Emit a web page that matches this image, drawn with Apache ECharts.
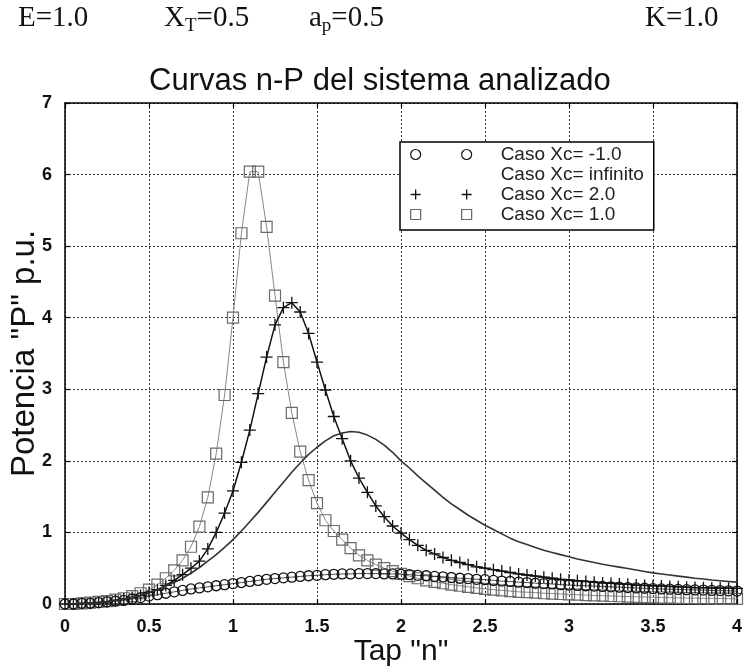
<!DOCTYPE html>
<html>
<head>
<meta charset="utf-8">
<script src="https://cdn.jsdelivr.net/npm/echarts@6/dist/echarts.min.js"></script>
<style>
  html, body { margin: 0; padding: 0; background: #fff; }
  #chart { width: 745px; height: 670px; }
</style>
</head>
<body>
<div id="chart"></div>
<script>
// Tap positions "n"
const tap = [0, 0.05, 0.1, 0.15, 0.2, 0.25, 0.3, 0.35, 0.4, 0.45,
  0.5, 0.55, 0.6, 0.65, 0.7, 0.75, 0.8, 0.85, 0.9, 0.95,
  1, 1.05, 1.1, 1.15, 1.2, 1.25, 1.3, 1.35, 1.4, 1.45,
  1.5, 1.55, 1.6, 1.65, 1.7, 1.75, 1.8, 1.85, 1.9, 1.95,
  2, 2.05, 2.1, 2.15, 2.2, 2.25, 2.3, 2.35, 2.4, 2.45,
  2.5, 2.55, 2.6, 2.65, 2.7, 2.75, 2.8, 2.85, 2.9, 2.95,
  3, 3.05, 3.1, 3.15, 3.2, 3.25, 3.3, 3.35, 3.4, 3.45,
  3.5, 3.55, 3.6, 3.65, 3.7, 3.75, 3.8, 3.85, 3.9, 3.95, 4];

// Power P (p.u.) for each capacitor case
const pXcMinus1 = [0.00, 0.00, 0.01, 0.01, 0.02, 0.03, 0.04, 0.05, 0.07, 0.09,
  0.11, 0.13, 0.15, 0.17, 0.19, 0.21, 0.225, 0.24, 0.255, 0.27,
  0.285, 0.30, 0.315, 0.33, 0.345, 0.355, 0.365, 0.375, 0.385, 0.395,
  0.40, 0.41, 0.415, 0.42, 0.42, 0.425, 0.425, 0.425, 0.42, 0.42,
  0.415, 0.41, 0.40, 0.395, 0.385, 0.38, 0.37, 0.36, 0.355, 0.345,
  0.34, 0.33, 0.32, 0.315, 0.305, 0.30, 0.29, 0.285, 0.28, 0.27,
  0.265, 0.26, 0.255, 0.25, 0.245, 0.24, 0.235, 0.23, 0.225, 0.22,
  0.215, 0.21, 0.207, 0.204, 0.20, 0.197, 0.194, 0.19, 0.187, 0.184, 0.18];

const pXcInf = [0.00, 0.00, 0.01, 0.01, 0.02, 0.03, 0.05, 0.07, 0.09, 0.12,
  0.16, 0.20, 0.25, 0.30, 0.36, 0.43, 0.51, 0.60, 0.69, 0.79,
  0.90, 1.02, 1.15, 1.28, 1.42, 1.56, 1.70, 1.84, 1.97, 2.09,
  2.19, 2.28, 2.35, 2.39, 2.41, 2.40, 2.36, 2.30, 2.22, 2.12,
  2.00, 1.90, 1.79, 1.69, 1.59, 1.49, 1.40, 1.32, 1.24, 1.17,
  1.10, 1.04, 0.98, 0.92, 0.87, 0.83, 0.79, 0.75, 0.72, 0.69,
  0.66, 0.63, 0.605, 0.58, 0.555, 0.535, 0.515, 0.495, 0.475, 0.455,
  0.435, 0.42, 0.405, 0.39, 0.375, 0.36, 0.35, 0.335, 0.325, 0.315, 0.305];

const pXc2 = [0.00, 0.00, 0.01, 0.01, 0.02, 0.03, 0.05, 0.07, 0.09, 0.12,
  0.16, 0.20, 0.26, 0.33, 0.41, 0.50, 0.60, 0.77, 1.00, 1.27,
  1.58, 1.98, 2.43, 2.94, 3.45, 3.90, 4.14, 4.21, 4.08, 3.78,
  3.38, 2.99, 2.62, 2.31, 2.00, 1.76, 1.56, 1.37, 1.22, 1.09,
  0.99, 0.90, 0.82, 0.75, 0.70, 0.65, 0.61, 0.58, 0.55, 0.52,
  0.50, 0.48, 0.46, 0.44, 0.42, 0.405, 0.39, 0.375, 0.36, 0.345,
  0.335, 0.325, 0.315, 0.305, 0.295, 0.29, 0.28, 0.275, 0.265, 0.26,
  0.255, 0.25, 0.245, 0.24, 0.235, 0.23, 0.228, 0.225, 0.222, 0.22, 0.218];

const pXc1 = [0.00, 0.00, 0.01, 0.02, 0.03, 0.04, 0.06, 0.08, 0.11, 0.15,
  0.20, 0.27, 0.36, 0.47, 0.61, 0.80, 1.08, 1.49, 2.10, 2.92,
  4.00, 5.18, 6.04, 6.04, 5.27, 4.31, 3.38, 2.67, 2.13, 1.73,
  1.41, 1.17, 1.02, 0.90, 0.78, 0.68, 0.61, 0.55, 0.50, 0.46,
  0.42, 0.39, 0.36, 0.33, 0.31, 0.29, 0.27, 0.255, 0.24, 0.225,
  0.21, 0.20, 0.19, 0.18, 0.17, 0.165, 0.16, 0.15, 0.145, 0.14,
  0.135, 0.13, 0.125, 0.12, 0.116, 0.112, 0.108, 0.104, 0.10, 0.097,
  0.094, 0.091, 0.088, 0.086, 0.084, 0.082, 0.08, 0.078, 0.076, 0.074, 0.072];

const seriesNames = ['Caso Xc= -1.0', 'Caso Xc= infinito', 'Caso Xc= 2.0', 'Caso Xc= 1.0'];

const pairs = (ys) => tap.map((x, i) => [x, ys[i]]);

const PLUS = 'path://M0 5L10 5M5 0L5 10';
const hollow = (c, w) => ({ color: 'rgba(0,0,0,0)', borderColor: c, borderWidth: w });

const chart = echarts.init(document.getElementById('chart'), null, { renderer: 'canvas' });

const sansFont = '"Liberation Sans", Arial, sans-serif';
const serifFont = '"Liberation Serif", "Times New Roman", serif';

const axisCommon = {
  type: 'value',
  axisLine: { show: true, onZero: false, lineStyle: { color: '#000', width: 1.5 } },
  axisTick: { show: true, inside: true, length: 5, lineStyle: { color: '#000', width: 1.2 } },
  splitLine: { show: false },
  axisLabel: { show: false }
};

const headRich = {
  b: { font: '29px ' + serifFont },
  s: { font: '19px ' + serifFont, padding: [15, 0, 0, 0] }
};

chart.setOption({
  animation: false,
  backgroundColor: '#fff',
  title: {
    text: 'Curvas n-P del sistema analizado',
    left: 144, top: 61,
    textStyle: { fontFamily: sansFont, fontSize: 31, fontWeight: 'normal', color: '#111' }
  },
  graphic: [
    { type: 'text', left: 18, top: 4, style: { text: 'E=1.0', font: '29px ' + serifFont, fill: '#111' } },
    { type: 'text', left: 164, top: 4, style: { text: '{b|X}{s|T}{b|=0.5}', fill: '#111', rich: headRich } },
    { type: 'text', left: 309, top: 4, style: { text: '{b|a}{s|p}{b|=0.5}', fill: '#111', rich: headRich } },
    { type: 'text', left: 645, top: 4, style: { text: 'K=1.0', font: '29px ' + serifFont, fill: '#111' } }
  ],
  legend: {
    orient: 'vertical',
    left: 400, top: 142,
    backgroundColor: '#fff',
    borderColor: '#000', borderWidth: 1.5,
    padding: [3, 10, 6, 10],
    itemGap: 1,
    itemWidth: 61, itemHeight: 10,
    symbolKeepAspect: false,
    formatter: (name) => '{t|' + name + '}',
    textStyle: {
      color: '#222',
      rich: { t: { fontFamily: sansFont, fontSize: 19, lineHeight: 20, padding: [0, 0, 0, 24], color: '#222' } }
    },
    data: [
      { name: seriesNames[0], icon: 'path://M0 5A5 5 0 1 1 10 5A5 5 0 1 1 0 5ZM51 5A5 5 0 1 1 61 5A5 5 0 1 1 51 5Z',
        itemStyle: hollow('#111', 1.2) },
      { name: seriesNames[1], icon: 'rect', itemStyle: { color: 'rgba(0,0,0,0)', borderWidth: 0 } },
      { name: seriesNames[2], icon: 'path://M0 5L10 5M5 0L5 10M51 5L61 5M56 0L56 10',
        itemStyle: hollow('#111', 1.3) },
      { name: seriesNames[3], icon: 'path://M0 0L10 0L10 10L0 10ZM51 0L61 0L61 10L51 10Z',
        itemStyle: hollow('#666', 1.2) }
    ]
  },
  grid: { left: 65, right: 8, top: 103, bottom: 66, containLabel: false, outerBoundsMode: 'none' },
  xAxis: [
    Object.assign({}, axisCommon, {
      min: 0, max: 4, interval: 0.5,
      position: 'bottom',
      axisLabel: { show: true, color: '#111', fontFamily: sansFont, fontSize: 18, fontWeight: 'bold', margin: 14 },
      splitLine: { show: true, lineStyle: { color: '#333', width: 1, type: [2, 2] } },
      name: 'Tap "n"', nameLocation: 'middle', nameGap: 33, nameMoveOverlap: false,
      nameTextStyle: { fontFamily: sansFont, fontSize: 30, color: '#111' }
    }),
    Object.assign({}, axisCommon, { min: 0, max: 4, interval: 0.5, position: 'top' })
  ],
  yAxis: [
    Object.assign({}, axisCommon, {
      min: 0, max: 7, interval: 1,
      position: 'left',
      axisLabel: { show: true, color: '#111', fontFamily: sansFont, fontSize: 18, fontWeight: 'bold', margin: 13 },
      splitLine: { show: true, lineStyle: { color: '#333', width: 1, type: [2, 2] } },
      name: 'Potencia "P" p.u.', nameLocation: 'middle', nameGap: 24, nameRotate: 90, nameMoveOverlap: false,
      nameTextStyle: { fontFamily: sansFont, fontSize: 33, color: '#111' }
    }),
    Object.assign({}, axisCommon, { min: 0, max: 7, interval: 1, position: 'right' })
  ],
  series: [
    {
      name: seriesNames[3], type: 'line', data: pairs(pXc1),
      symbol: 'rect', symbolSize: 11, showAllSymbol: true,
      lineStyle: { color: '#888', width: 1 },
      itemStyle: hollow('#6a6a6a', 1.2),
      z: 2
    },
    {
      name: seriesNames[2], type: 'line', data: pairs(pXc2),
      symbol: PLUS, symbolSize: 12, showAllSymbol: true,
      lineStyle: { color: '#111', width: 1.5 },
      itemStyle: hollow('#111', 1.3),
      z: 3
    },
    {
      name: seriesNames[0], type: 'line', data: pairs(pXcMinus1),
      symbol: 'circle', symbolSize: 10, showAllSymbol: true,
      lineStyle: { color: '#222', width: 0.8 },
      itemStyle: hollow('#111', 1.3),
      z: 4
    },
    {
      name: seriesNames[1], type: 'line', data: pairs(pXcInf),
      showSymbol: false, symbol: 'none',
      lineStyle: { color: '#333', width: 1.6 },
      itemStyle: { color: '#333' },
      z: 5
    }
  ]
});
</script>
</body>
</html>
